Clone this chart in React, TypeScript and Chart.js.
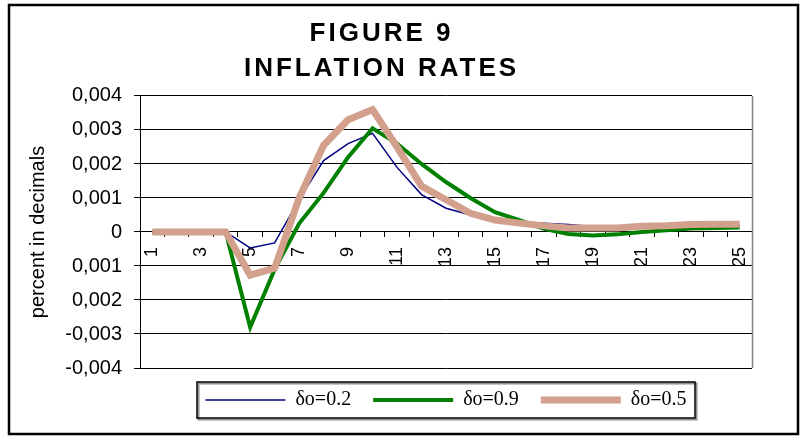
import React, { useEffect, useRef } from 'react';
import { Chart, registerables } from 'chart.js';

Chart.register(...registerables);

const periods = ['1','2','3','4','5','6','7','8','9','10','11','12','13','14','15','16','17','18','19','20','21','22','23','24','25'];

const series02 = [0, 0, 0, 0, -0.00047, -0.00032, 0.00095, 0.0021, 0.0026, 0.0029, 0.0019, 0.0011, 0.0007, 0.0005, 0.00035, 0.0003, 0.00026, 0.00022, 0.00016, 0.00013, 0.00014, 0.00016, 0.00018, 0.0002, 0.0002];
const series09 = [0, 0, 0, 0, -0.0028, -0.0011, 0.00025, 0.00115, 0.0022, 0.00305, 0.0026, 0.002, 0.00147, 0.001, 0.00058, 0.00035, 0.00009, -0.00006, -0.0001, -0.00007, 0, 0.00005, 0.0001, 0.00012, 0.00013];
const series05 = [0, 0, 0, 0, -0.00127, -0.00106, 0.001, 0.00255, 0.0033, 0.0036, 0.0025, 0.00135, 0.00095, 0.00055, 0.00035, 0.00026, 0.00018, 0.00012, 0.00012, 0.00012, 0.00017, 0.00018, 0.00022, 0.00023, 0.00023];

const seriesNames = ['δo=0.2', 'δo=0.9', 'δo=0.5'];
const yTickLabels = ['-0,004', '-0,003', '0,002', '0,001', '0', '0,001', '0,002', '0,003', '0,004'];
const titleLines = ['FIGURE 9', 'INFLATION RATES'];
const yAxisTitle = 'percent in decimals';

const titleSpacingPlugin = {
  id: 'titleSpacing',
  afterLayout(chart: any) {
    const tb = chart.titleBlock;
    if (tb && !tb.__spaced) {
      const orig = tb.draw.bind(tb);
      tb.draw = (area: any) => {
        const ctx: any = chart.ctx;
        const prev = ctx.letterSpacing;
        ctx.save();
        ctx.translate(1.5, 0);
        ctx.letterSpacing = '3px';
        orig(area);
        ctx.restore();
        ctx.letterSpacing = prev || '0px';
      };
      tb.__spaced = true;
    }
  },
};

const framesPlugin = {
  id: 'frames',
  beforeDraw(chart: any) {
    const { ctx, width, height } = chart;
    ctx.save();
    ctx.fillStyle = '#ffffff';
    ctx.fillRect(0, 0, width, height);
    ctx.restore();
  },
  afterDraw(chart: any) {
    const { ctx, chartArea } = chart;
    ctx.save();
    ctx.strokeStyle = '#808080';
    ctx.lineWidth = 1.5;
    ctx.beginPath();
    ctx.moveTo(chartArea.right + 0.5, chartArea.top);
    ctx.lineTo(chartArea.right + 0.5, chartArea.bottom);
    ctx.stroke();
    const boxes = chart.legend && chart.legend.legendHitBoxes;
    if (boxes && boxes.length) {
      let l = Infinity, r = -Infinity, t = Infinity, b = -Infinity;
      boxes.forEach((h: any) => {
        l = Math.min(l, h.left);
        r = Math.max(r, h.left + h.width);
        t = Math.min(t, h.top);
        b = Math.max(b, h.top + h.height);
      });
      const x0 = Math.round(l - 8), y0 = Math.round(t - 8), x1 = Math.round(r + 8), y1 = Math.round(b + 8);
      ctx.strokeStyle = '#909090';
      ctx.lineWidth = 2;
      ctx.strokeRect(x0 + 1.5, y0 + 1.5, x1 - x0, y1 - y0);
      ctx.strokeStyle = '#000000';
      ctx.lineWidth = 1.5;
      ctx.strokeRect(x0, y0, x1 - x0, y1 - y0);
    }
    ctx.strokeStyle = '#000000';
    ctx.lineWidth = 2.5;
    ctx.strokeRect(9, 5, 789, 429);
    ctx.restore();
  },
};

export default function App() {
  const canvasRef = useRef<HTMLCanvasElement | null>(null);

  useEffect(() => {
    const canvas = canvasRef.current;
    if (!canvas) return;
    const chart = new Chart(canvas, {
      type: 'line',
      data: {
        labels: periods,
        datasets: [
          {
            label: seriesNames[0],
            data: series02,
            borderColor: '#000080',
            backgroundColor: '#000080',
            borderWidth: 1.5,
            pointRadius: 0,
            tension: 0,
            order: 2,
          },
          {
            label: seriesNames[1],
            data: series09,
            borderColor: '#008000',
            backgroundColor: '#008000',
            borderWidth: 4,
            pointRadius: 0,
            tension: 0,
            order: 1,
          },
          {
            label: seriesNames[2],
            data: series05,
            borderColor: '#d2a08c',
            backgroundColor: '#d2a08c',
            borderWidth: 7,
            pointRadius: 0,
            tension: 0,
            order: 0,
          },
        ],
      },
      options: {
        responsive: false,
        animation: false,
        devicePixelRatio: 1,
        layout: { padding: { left: 8, right: 48, top: 0, bottom: 16 } },
        plugins: {
          tooltip: { enabled: false },
          title: {
            display: true,
            text: titleLines,
            color: '#000000',
            font: { family: 'Liberation Sans', size: 26, weight: 'bold', lineHeight: 1.365 },
            padding: { top: 16, bottom: 9 },
          },
          legend: {
            display: true,
            position: 'bottom',
            fullSize: false,
            labels: {
              usePointStyle: true,
              pointStyle: 'line',
              pointStyleWidth: 80,
              padding: 22,
              color: '#000000',
              font: { family: 'Liberation Serif', size: 20 },
              sort: (a: any, b: any) => a.datasetIndex - b.datasetIndex,
            },
          },
        },
        scales: {
          x: {
            type: 'category',
            position: { y: 0 } as any,
            offset: true,
            grid: {
              display: true,
              drawOnChartArea: false,
              drawTicks: true,
              tickLength: 5,
              color: '#000000',
              offset: true,
            },
            border: { display: true, color: '#000000', width: 1 },
            ticks: {
              autoSkip: false,
              minRotation: 90,
              maxRotation: 90,
              padding: 10,
              color: '#000000',
              font: { family: 'Liberation Sans', size: 18 },
              callback: (_v: any, i: number) => (i % 2 === 0 ? periods[i] : ''),
            },
          },
          y: {
            min: -0.004,
            max: 0.004,
            afterFit: (scale: any) => {
              scale.width = 132;
            },
            grid: {
              color: '#000000',
              lineWidth: 1,
              drawTicks: true,
              tickLength: 6,
            },
            border: { display: true, color: '#000000', width: 1 },
            ticks: {
              stepSize: 0.001,
              padding: 12,
              color: '#000000',
              font: { family: 'Liberation Sans', size: 20 },
              callback: (_v: any, i: number) => yTickLabels[i] ?? '',
            },
            title: {
              display: true,
              text: yAxisTitle,
              color: '#000000',
              font: { family: 'Liberation Sans', size: 20 },
              padding: { top: 18, bottom: 0 },
            },
          },
        },
      },
      plugins: [titleSpacingPlugin, framesPlugin],
    });
    return () => chart.destroy();
  }, []);

  return (
    <div style={{ position: 'fixed', left: 0, top: 0, width: 800, height: 436, background: '#ffffff' }}>
      <canvas ref={canvasRef} width={800} height={436} />
    </div>
  );
}
